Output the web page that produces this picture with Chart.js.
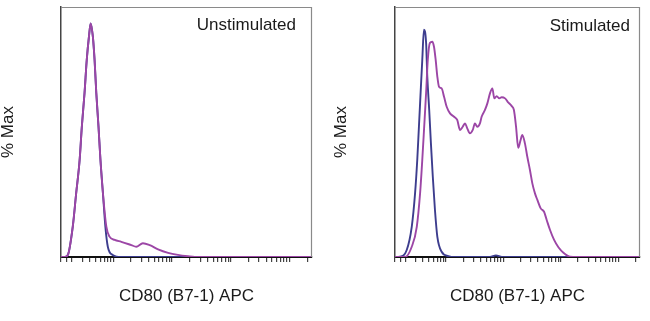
<!DOCTYPE html>
<html><head><meta charset="utf-8">
<script src="https://cdn.jsdelivr.net/npm/chart.js@4"></script>
<style>
html,body{margin:0;padding:0;background:#fff;width:650px;height:321px;overflow:hidden}
.p{position:absolute;top:0;width:325px;height:321px}
</style></head>
<body>
<div class="p" style="left:0"><canvas id="c1" width="325" height="321"></canvas></div>
<div class="p" style="left:325px"><canvas id="c2" width="325" height="321"></canvas></div>
<script>
// ---- data (channel 0..1024, % of max) ----
const panelTitles = ['Unstimulated', 'Stimulated'];
const xAxisTitle = 'CD80 (B7-1) APC';
const yAxisTitle = '% Max';
const tickChannels = [0, 22, 45, 88, 117, 141, 160, 176, 190, 202, 213,
  285, 328, 357, 381, 400, 416, 430, 442, 453,
  525, 568, 597, 621, 640, 656, 670, 682, 693,
  765, 808, 837, 861, 880, 896, 910, 922, 933, 1005];

const unstimControlX = [0, 14, 28, 48, 62, 76, 85, 96, 105, 114, 121, 130, 137, 144, 153, 161, 171, 181, 191, 211, 246, 1024];
const unstimControlY = [0, 0, 0.9, 13.0, 27.4, 41.5, 55.8, 70.2, 84.3, 94.3, 100, 94.3, 84.3, 70.2, 55.8, 41.5, 27.4, 13.0, 4.4, 0.9, 0, 0];
const unstimCd80X = [0, 14, 28, 48, 62, 76, 85, 96, 105, 114, 121, 130, 137, 144, 153, 161, 171, 185, 198, 219, 246, 287, 307, 334, 362, 396, 437, 477, 518, 546, 1024];
const unstimCd80Y = [0, 0, 0.9, 13.0, 27.4, 41.5, 55.8, 70.2, 84.3, 94.3, 100, 94.3, 84.3, 70.2, 55.8, 41.5, 27.4, 13.0, 8.7, 7.3, 6.5, 5.1, 4.4, 5.9, 5.1, 3.3, 1.8, 0.9, 0.3, 0, 0];

const stimControlX = [0, 21, 49, 70, 84, 93, 100, 107, 114, 121, 130, 135, 143, 150, 158, 167, 177, 195, 223, 251, 397, 422, 447, 1024];
const stimControlY = [0, 0.1, 3.1, 13.3, 28.2, 42.7, 57.3, 72.2, 86.7, 100, 94.2, 79.3, 64.7, 50.2, 35.3, 20.7, 8.9, 2.3, 0.4, 0, 0, 0.7, 0, 0];
const stimCd80X = [0, 42, 70, 91, 105, 114, 122, 130, 137, 146, 156, 163, 170, 177, 184, 195, 205, 216, 230, 247, 260, 272, 283, 293, 302, 313, 325, 334, 344, 355, 362, 376, 386, 397, 407, 415, 425, 436, 446, 460, 471, 488, 497, 506, 515, 525, 532, 543, 553, 564, 574, 585, 595, 609, 623, 634, 648, 665, 683, 704, 732, 761, 1024];
const stimCd80Y = [0, 0, 4.5, 13.3, 28.2, 42.7, 57.3, 72.2, 86.7, 94.2, 94.7, 92.5, 86.7, 79.3, 74.9, 74.2, 70.5, 66.1, 63.2, 61.7, 60.3, 55.9, 57.3, 58.8, 56.6, 54.4, 55.9, 58.8, 57.3, 58.8, 61.7, 64.7, 67.6, 72.0, 74.2, 69.8, 70.8, 69.8, 70.3, 69.8, 68.3, 66.4, 64.7, 57.3, 48.0, 51.5, 53.7, 50.0, 44.1, 38.3, 32.4, 28.0, 25.1, 21.4, 19.9, 16.3, 11.9, 7.5, 4.3, 1.9, 0.1, 0, 0];

const controlColor = '#3d3d8e';
const cd80Color = '#9c46a6';

function pts(xs, ys) { return xs.map((x, i) => ({x: x, y: ys[i]})); }

const framePlugin = {
  id: 'frame',
  afterDatasetsDraw(chart) {
    const {ctx, chartArea: a} = chart;
    ctx.save();
    ctx.strokeStyle = '#8a8a8a';
    ctx.lineWidth = 1.2;
    ctx.beginPath();
    ctx.moveTo(a.left, a.top + 0.5);
    ctx.lineTo(a.right - 0.5, a.top + 0.5);
    ctx.lineTo(a.right - 0.5, a.bottom);
    ctx.stroke();
    ctx.restore();
  }
};
const labelPlugin = {
  id: 'panelLabel',
  afterDraw(chart, args, opts) {
    const {ctx, chartArea: a} = chart;
    ctx.save();
    ctx.font = '17px "Liberation Sans", Arial, sans-serif';
    ctx.fillStyle = '#1a1a1a';
    ctx.textAlign = 'right';
    ctx.textBaseline = 'middle';
    ctx.fillText(opts.text, a.right - opts.inset, opts.y);
    ctx.restore();
  }
};

function makeChart(id, cfg) {
  return new Chart(document.getElementById(id), {
    type: 'line',
    data: {
      datasets: [
        {data: pts(cfg.cd80X, cfg.cd80Y), borderColor: cd80Color, borderWidth: 1.9, pointRadius: 0, fill: false, cubicInterpolationMode: 'monotone'},
        {data: pts(cfg.ctrlX, cfg.ctrlY), borderColor: controlColor, borderWidth: 1.9, pointRadius: 0, fill: false, cubicInterpolationMode: 'monotone'}
      ]
    },
    options: {
      responsive: false,
      animation: false,
      devicePixelRatio: 1,
      layout: {padding: {left: 0, top: 7, right: cfg.padRight, bottom: 0}},
      plugins: {
        legend: {display: false},
        tooltip: {enabled: false},
        panelLabel: {text: cfg.title, inset: cfg.inset, y: cfg.labelY}
      },
      scales: {
        x: {
          type: 'linear', min: 0, max: 1024,
          afterBuildTicks: s => { s.ticks = tickChannels.map(v => ({value: v})); },
          afterFit: s => { s.height = 64; },
          ticks: {display: false},
          grid: {display: true, drawOnChartArea: false, drawTicks: true, tickLength: 5, color: '#444', lineWidth: 1.2},
          border: {display: true, color: '#111', width: 2},
          title: {display: true, text: xAxisTitle, color: '#1a1a1a',
                  font: {family: '"Liberation Sans", Arial, sans-serif', size: 17},
                  padding: {top: 0, bottom: 14}}
        },
        y: {
          min: 0, max: cfg.yMax,
          afterFit: s => { s.width = cfg.yWidth; },
          ticks: {display: false},
          grid: {display: false},
          border: {display: true, color: '#444', width: 1.5},
          title: {display: true, text: yAxisTitle, color: '#1a1a1a',
                  font: {family: '"Liberation Sans", Arial, sans-serif', size: 17, lineHeight: 1},
                  padding: {top: cfg.yTitlePad, bottom: 0}}
        }
      }
    },
    plugins: [framePlugin, labelPlugin]
  });
}

makeChart('c1', {ctrlX: unstimControlX, ctrlY: unstimControlY, cd80X: unstimCd80X, cd80Y: unstimCd80Y,
  title: panelTitles[0], yMax: 107, yWidth: 61, padRight: 13, inset: 16, labelY: 25, yTitlePad: 0});
makeChart('c2', {ctrlX: stimControlX, ctrlY: stimControlY, cd80X: stimCd80X, cd80Y: stimCd80Y,
  title: panelTitles[1], yMax: 110, yWidth: 70, padRight: 10, inset: 10, labelY: 26, yTitlePad: 8});
</script>
</body></html>
